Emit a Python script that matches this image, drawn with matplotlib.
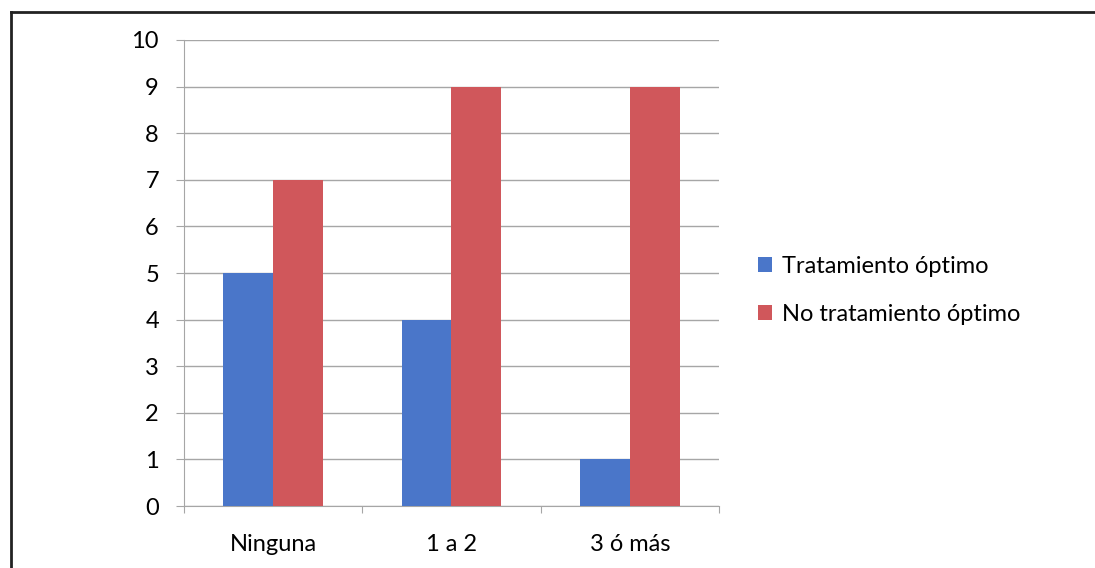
import numpy as np
import matplotlib.pyplot as plt
from matplotlib.lines import Line2D

plt.rcParams['font.family'] = ['Lato', 'DejaVu Sans']

categorias = ['Ninguna', '1 a 2', '3 ó más']
optimo = [5, 4, 1]
no_optimo = [7, 9, 9]
series = ['Tratamiento óptimo', 'No tratamiento óptimo']

azul = '#4a76c9'
rojo = '#d0575b'
gris = '#a6a6a6'
fs = 17

fig = plt.figure(figsize=(10.95, 5.68), dpi=100)
ax = fig.add_axes([0.168, 0.109, 0.4886, 0.8206])

x = np.arange(len(categorias))
w = 0.28
ax.bar(x - w / 2, optimo, w, color=azul, label=series[0], zorder=3)
ax.bar(x + w / 2, no_optimo, w, color=rojo, label=series[1], zorder=3)

ax.set_xlim(-0.5, len(categorias) - 0.5)
ax.set_ylim(0, 10)
ax.set_yticks(range(0, 11))
ax.yaxis.grid(True, color=gris, linewidth=1, zorder=0)

# separadores de categoria abajo, etiquetas centradas
ax.set_xticks(np.arange(-0.5, len(categorias)), minor=False)
ax.set_xticklabels([])
ax.set_xticks(x, minor=True)
ax.set_xticklabels(categorias, minor=True)
ax.tick_params(axis='x', which='major', length=5, color=gris, direction='out')
ax.tick_params(axis='x', which='minor', length=0, pad=20, labelsize=fs)
ax.tick_params(axis='y', length=6, color=gris, pad=12, labelsize=fs)

for s in ['top', 'right']:
    ax.spines[s].set_visible(False)
for s in ['left', 'bottom']:
    ax.spines[s].set_color(gris)

leg = ax.legend(loc='center left', bbox_to_anchor=(0.673, 0.489),
                bbox_transform=fig.transFigure, frameon=False,
                fontsize=fs, handlelength=0.6, handleheight=0.6,
                handletextpad=0.4, labelspacing=1.15)

# marco del recuadro
fig.add_artist(Line2D([0.01, 0.01], [0, 0.979], color='#222222', lw=2,
                      transform=fig.transFigure))
fig.add_artist(Line2D([0.01, 1.0], [0.979, 0.979], color='#222222', lw=2,
                      transform=fig.transFigure))

fig.savefig('out.png', dpi=100)
